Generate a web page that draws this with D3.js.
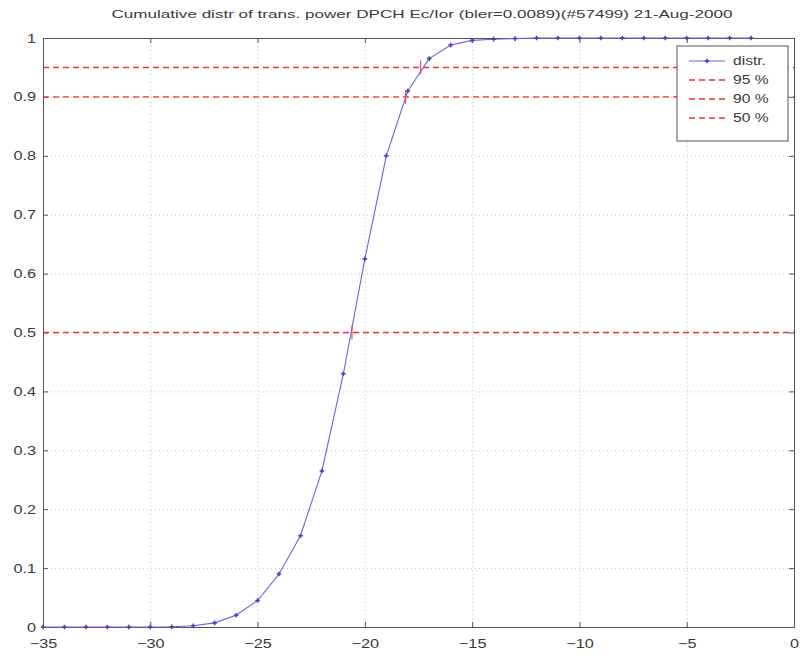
<!DOCTYPE html>
<html>
<head>
<meta charset="utf-8">
<script src="https://cdn.jsdelivr.net/npm/d3@7"></script>
<style>
  body { margin: 0; background: #fff; }
  svg text { font-family: "Liberation Sans", Arial, sans-serif; fill: #3a3a3a; }
  .grid .domain { display: none; }
</style>
</head>
<body>
<div id="chart"></div>
<script>
// power bins (dB) and cumulative distribution
const xPower = [-35, -34, -33, -32, -31, -30, -29, -28, -27, -26, -25, -24, -23, -22,
  -21, -20, -19, -18, -17, -16, -15, -14, -13, -12, -11, -10, -9, -8, -7, -6, -5, -4, -3, -2];
const cdf = [0, 0, 0, 0, 0, 0, 0.0005, 0.002, 0.007, 0.02, 0.045, 0.09, 0.155, 0.265,
  0.43, 0.625, 0.8, 0.91, 0.965, 0.988, 0.996, 0.998, 0.999, 1, 1, 1, 1, 1, 1, 1, 1, 1, 1, 1];

// percentile levels and where the curve crosses them
const levels = [0.95, 0.9, 0.5];
const levelNames = ['95 %', '90 %', '50 %'];
const crossings = [-17.4, -18.1, -20.6];

const xTicks = [-35, -30, -25, -20, -15, -10, -5, 0];
const yTicks = [0, 0.1, 0.2, 0.3, 0.4, 0.5, 0.6, 0.7, 0.8, 0.9, 1];

const chartTitle = 'Cumulative distr of trans. power DPCH Ec/Ior (bler=0.0089)(#57499) 21-Aug-2000';

const W = 801;
const H = 662;
const margin = { top: 38, right: 7, bottom: 35, left: 43 };
const w = W - margin.left - margin.right;
const h = H - margin.top - margin.bottom;

const blue = '#6464ee';
const markBlue = '#4646b4';
const red = '#f03030';
const dash = '6,4';

const svg = d3.select('#chart')
  .append('svg')
  .attr('width', W)
  .attr('height', H);

const g = svg.append('g')
  .attr('transform', `translate(${margin.left}, ${margin.top})`);

const xScale = d3.scaleLinear().domain([-35, 0]).range([0, w]);
const yScale = d3.scaleLinear().domain([0, 1]).range([h, 0]);

// dotted grid
g.append('g')
  .attr('class', 'grid')
  .attr('transform', `translate(0, ${h})`)
  .call(d3.axisBottom(xScale).tickValues(xTicks).tickSize(-h).tickFormat(''));
g.append('g')
  .attr('class', 'grid')
  .call(d3.axisLeft(yScale).tickValues(yTicks).tickSize(-w).tickFormat(''));
g.selectAll('.grid line')
  .attr('stroke', '#c4c4c4')
  .attr('stroke-dasharray', '1,3');

// axes (ticks inside, like matlab)
const fmtX = (d) => (d < 0 ? '\u2212' + Math.abs(d) : d);
g.append('g')
  .attr('class', 'ax')
  .attr('transform', `translate(0, ${h})`)
  .call(d3.axisBottom(xScale).tickValues(xTicks).tickSize(-5).tickPadding(12).tickFormat(fmtX));
g.append('g')
  .attr('class', 'ax')
  .call(d3.axisLeft(yScale).tickValues(yTicks).tickSize(-5).tickPadding(7).tickFormat((d) => d));
g.append('g')
  .attr('class', 'ax')
  .call(d3.axisTop(xScale).tickValues(xTicks).tickSize(-5).tickFormat(''));
g.append('g')
  .attr('class', 'ax')
  .attr('transform', `translate(${w}, 0)`)
  .call(d3.axisRight(yScale).tickValues(yTicks).tickSize(-5).tickFormat(''));

g.selectAll('.ax text').style('font-size', '12.5px').style('fill', '#3a3a3a');
g.selectAll('.ax .domain, .ax .tick line').attr('stroke', '#555');

// percentile lines
g.selectAll('.level')
  .data(levels)
  .enter()
  .append('line')
  .attr('class', 'level')
  .attr('x1', xScale(-35))
  .attr('x2', xScale(0))
  .attr('y1', (d) => yScale(d))
  .attr('y2', (d) => yScale(d))
  .attr('stroke', red)
  .attr('stroke-width', 1.4)
  .attr('stroke-dasharray', dash);

// distribution line
const dataset = xPower.map((x, i) => ({ x, y: cdf[i] }));
const valueline = d3.line()
  .x((d) => xScale(d.x))
  .y((d) => yScale(d.y));

g.append('path')
  .datum(dataset)
  .attr('fill', 'none')
  .attr('stroke', blue)
  .attr('stroke-width', 1.1)
  .attr('d', valueline);

const marker = d3.symbol().type(d3.symbolCross).size(12);
g.selectAll('.pt')
  .data(dataset)
  .enter()
  .append('path')
  .attr('class', 'pt')
  .attr('transform', (d) => `translate(${xScale(d.x)}, ${yScale(d.y)})`)
  .attr('d', marker)
  .attr('fill', markBlue);

// crossing marks
g.selectAll('.cross')
  .data(crossings)
  .enter()
  .append('line')
  .attr('class', 'cross')
  .attr('x1', (d) => xScale(d))
  .attr('x2', (d) => xScale(d))
  .attr('y1', (d, i) => yScale(levels[i]) - 7)
  .attr('y2', (d, i) => yScale(levels[i]) + 7)
  .attr('stroke', red)
  .attr('stroke-width', 1);

// title
svg.append('text')
  .attr('class', 'title')
  .attr('x', 422)
  .attr('y', 18)
  .attr('text-anchor', 'middle')
  .style('font-size', '11.5px')
  .text(chartTitle);

// legend
const lg = svg.append('g').attr('transform', 'translate(677, 46)');
lg.append('rect')
  .attr('width', 111)
  .attr('height', 95)
  .attr('fill', '#fff')
  .attr('stroke', '#555');

const legendItems = [{ name: 'distr.', color: blue, dash: null }]
  .concat(levelNames.map((n) => ({ name: n, color: red, dash })));

const rows = lg.selectAll('.row')
  .data(legendItems)
  .enter()
  .append('g')
  .attr('class', 'row')
  .attr('transform', (d, i) => `translate(0, ${15 + i * 19})`);

rows.append('line')
  .attr('x1', 12)
  .attr('x2', 48)
  .attr('stroke', (d) => d.color)
  .attr('stroke-width', (d) => (d.dash ? 1.4 : 1.1))
  .attr('stroke-dasharray', (d) => d.dash);

rows.filter((d) => !d.dash)
  .append('path')
  .attr('transform', 'translate(30, 0)')
  .attr('d', marker)
  .attr('fill', markBlue);

rows.append('text')
  .attr('x', 56)
  .attr('dy', '0.35em')
  .style('font-size', '12px')
  .text((d) => d.name);

// the text in the picture is drawn wider than normal: stretch it
svg.selectAll('text').each(function () {
  const len = this.getComputedTextLength();
  if (len > 0) {
    d3.select(this)
      .attr('textLength', this.classList.contains('title') ? 621 : len * 1.3)
      .attr('lengthAdjust', 'spacingAndGlyphs');
  }
});
</script>
</body>
</html>
